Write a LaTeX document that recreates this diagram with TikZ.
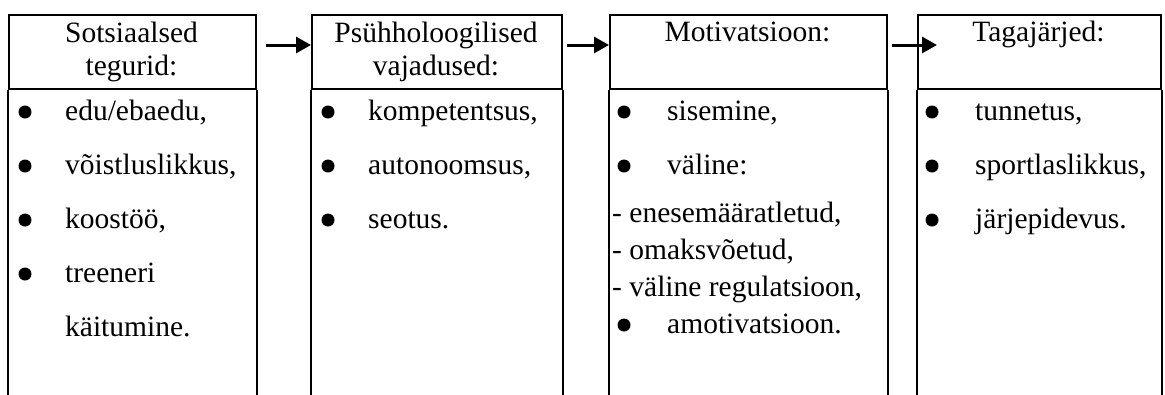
\documentclass[tikz,border=0pt]{standalone}
\usepackage{fontspec}
\setmainfont{Liberation Serif}
\usetikzlibrary{arrows.meta}
\begin{document}
\begin{tikzpicture}[x=1pt,y=-1pt,
  hdr/.style={draw,line width=2pt,minimum width=#1,minimum height=74pt,inner sep=0pt,anchor=north west},
  side/.style={line width=2pt},
  txt/.style={font=\fontsize{29.5}{33}\selectfont,inner sep=0pt,anchor=base west},
  ctr/.style={font=\fontsize{29.5}{33}\selectfont,inner sep=0pt,anchor=base},
  bul/.style={circle,fill,inner sep=0pt,minimum size=13pt},
  arr/.style={line width=3pt,-{Triangle[length=15pt,width=16pt]}}]
\useasboundingbox (0,0) rectangle (1165,394);
\fill[white] (0,0) rectangle (1165,394);
% header boxes
\node[hdr=247pt] (h1) at (8,14) {};
\node[hdr=250pt] (h2) at (311,14) {};
\node[hdr=277pt] (h3) at (609,14) {};
\node[hdr=243pt] (h4) at (917,14) {};
% open body sides
\foreach \h in {h1,h2,h3,h4}{
  \draw[side] (\h.south west) -- ++(0,320);
  \draw[side] (\h.south east) -- ++(0,320);
}
% arrows
\coordinate (a1) at (266,45);
\coordinate (a2) at (567,45);
\coordinate (a4) at (892,45);
\coordinate (e4) at (937,45);
\draw[arr] (a1) -- (h2.west |- a1);
\draw[arr] (a2) -- (h3.west |- a2);
\draw[arr] (a4) -- (e4);
% column 1
\node[ctr] (t1a) at (131.5,42) {Sotsiaalsed};
\node[ctr] (t1b) at (131.5,75) {tegurid:};
\node[bul] (b11) at (25,112) {};
\node[txt] (i11) at (65,120) {edu/ebaedu,};
\node[bul] (b12) at (25,166) {};
\node[txt] (i12) at (65,174) {võistluslikkus,};
\node[bul] (b13) at (25,220) {};
\node[txt] (i13) at (65,228) {koostöö,};
\node[bul] (b14) at (25,274) {};
\node[txt] (i14) at (65,282) {treeneri};
\node[txt] (i15) at (65,336) {käitumine.};
% column 2
\node[ctr] (t2a) at (436,42) {Psühholoogilised};
\node[ctr] (t2b) at (436,75) {vajadused:};
\node[bul] (b21) at (328,112) {};
\node[txt] (i21) at (368,120) {kompetentsus,};
\node[bul] (b22) at (328,166) {};
\node[txt] (i22) at (368,174) {autonoomsus,};
\node[bul] (b23) at (328,220) {};
\node[txt] (i23) at (368,228) {seotus.};
% column 3
\node[ctr] (t3a) at (747.5,41) {Motivatsioon:};
\node[bul] (b31) at (624,112) {};
\node[txt] (i31) at (667,120) {sisemine,};
\node[bul] (b32) at (624,166) {};
\node[txt] (i32) at (667,174) {väline:};
\node[txt] (d31) at (612,222) {- enesemääratletud,};
\node[txt] (d32) at (612,259) {- omaksvõetud,};
\node[txt] (d33) at (612,296) {- väline regulatsioon,};
\node[bul] (b33) at (624,325) {};
\node[txt] (i33) at (667,333) {amotivatsioon.};
% column 4
\node[ctr] (t4a) at (1038.5,41) {Tagajärjed:};
\node[bul] (b41) at (932,112) {};
\node[txt] (i41) at (975,120) {tunnetus,};
\node[bul] (b42) at (932,166) {};
\node[txt] (i42) at (975,174) {sportlaslikkus,};
\node[bul] (b43) at (932,220) {};
\node[txt] (i43) at (975,228) {järjepidevus.};
\end{tikzpicture}
\end{document}
